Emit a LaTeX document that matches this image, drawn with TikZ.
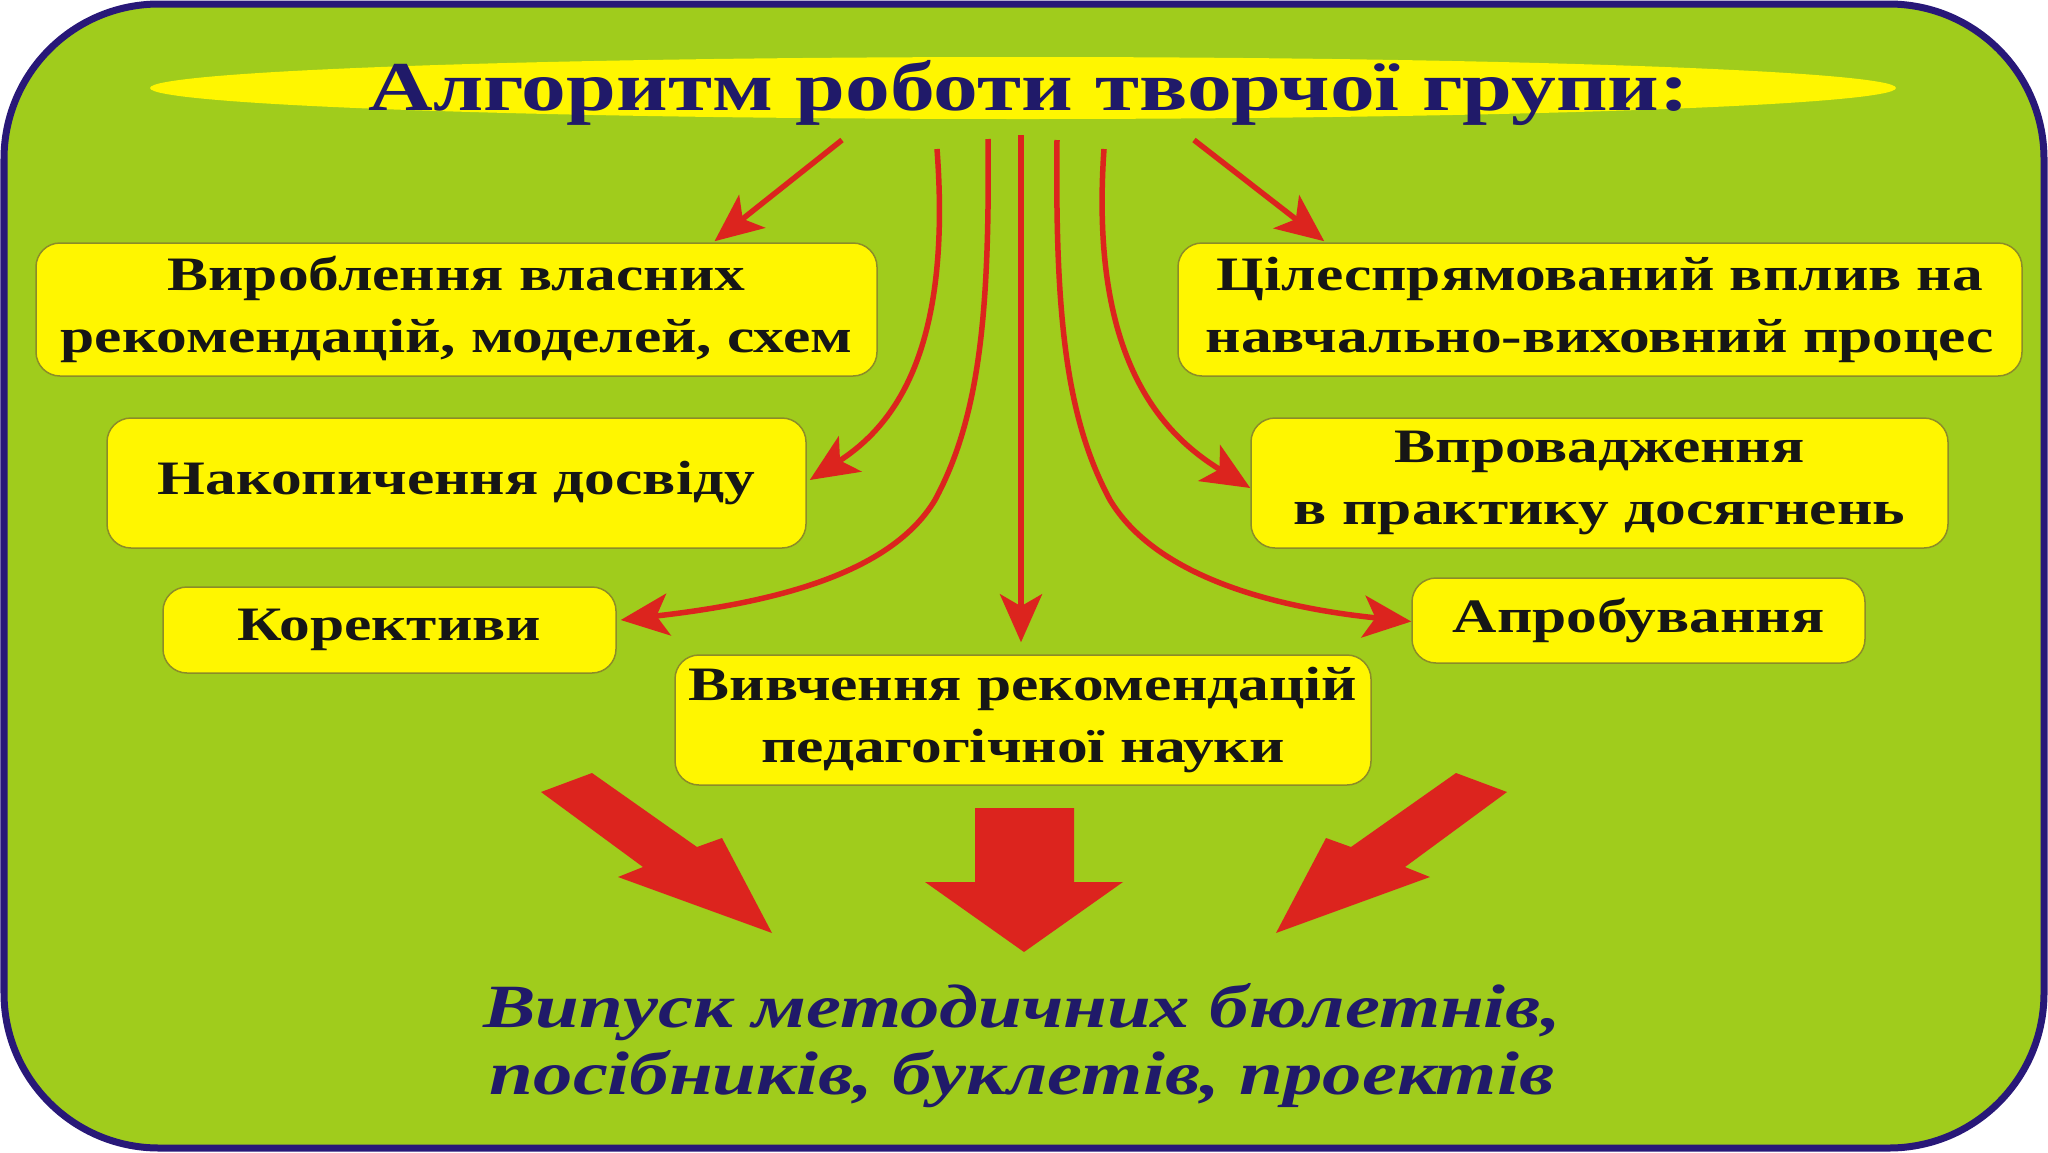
\documentclass[tikz,border=0pt]{standalone}
\usepackage{fontspec}
\setmainfont{Liberation Serif}[FakeStretch=1.28]
\usetikzlibrary{arrows.meta,shapes.geometric,calc}
\definecolor{bggreen}{RGB}{160,204,28}
\definecolor{framecol}{RGB}{40,24,120}
\definecolor{boxyellow}{RGB}{255,246,0}
\definecolor{boxline}{RGB}{140,140,40}
\definecolor{arrowred}{RGB}{220,36,30}
\definecolor{navytext}{RGB}{32,26,105}
\definecolor{darktext}{RGB}{22,22,22}
\begin{document}
\begin{tikzpicture}[x=1pt,y=-1pt,
  ybox/.style={draw=boxline, line width=1.5pt, fill=boxyellow, rounded corners=24pt,
    inner sep=0pt, align=center, text=darktext, font=\bfseries\fontsize{48}{62}\selectfont},
  thinarrow/.style={draw=arrowred, line width=5.5pt,
    -{Stealth[length=48pt,width=42pt,inset=12pt]}},
  blockarrow/.style={fill=arrowred, draw=none}]
\useasboundingbox (0,0) rectangle (2048,1152);
\fill[white] (0,0) rectangle (2048,1152);
\draw[draw=framecol, line width=7pt, fill=bggreen, rounded corners=155pt] (4,4) rectangle (2044,1148);

% title
\node[ellipse, fill=boxyellow, minimum width=1746pt, minimum height=62pt, inner sep=0pt] (titlebg) at (1023,88) {};
\node[anchor=base, text=navytext, font=\bfseries\fontsize{70}{80}\selectfont, inner sep=0pt] (title) at (1029,110) {Алгоритм роботи творчої групи:};

% boxes
\node[ybox, minimum width=841pt, minimum height=133pt] (b1) at (456.5,309.5) {Вироблення власних\\рекомендацій, моделей, схем};
\node[ybox, minimum width=844pt, minimum height=133pt] (b2) at (1600,309.5) {Цілеспрямований вплив на\\навчально-виховний процес};
\node[ybox, minimum width=699pt, minimum height=130pt] (b3) at (456.5,483) {Накопичення досвіду};
\node[ybox, minimum width=697pt, minimum height=130pt] (b4) at (1599.5,483) {Впровадження\\в практику досягнень};
\node[ybox, minimum width=453pt, minimum height=86pt] (b5) at (389.5,630) {Корективи};
\node[ybox, minimum width=453pt, minimum height=85pt] (b6) at (1638.5,620.5) {Апробування};
\node[ybox, minimum width=696pt, minimum height=130pt] (b7) at (1023,720) {Вивчення рекомендацій\\педагогічної науки};

% start points of thin arrows
\coordinate (s1) at (842,140);
\coordinate (s2) at (937,149);
\coordinate (s3) at (988,139);
\coordinate (s4) at (1021,135);
\coordinate (s5) at (1057,140);
\coordinate (s6) at (1104,149);
\coordinate (s7) at (1194,140);

\draw[thinarrow] (s1) -- ($(b1.north)+(258,-1)$);
\draw[thinarrow] (s7) -- ($(b2.north west)+(147,-1)$);
\draw[thinarrow] (s2) .. controls (952,350) and (895,425) .. ($(b3.east)+(3,-3)$);
\draw[thinarrow] (s3) .. controls (990,320) and (978,420) .. (935,500) .. controls (890,575) and (770,603) .. ($(b5.east)+(4,-10)$);
\draw[thinarrow] (s4) -- ($(b7.north)+(-2,-12)$);
\draw[thinarrow] (s5) .. controls (1055,320) and (1067,420) .. (1110,500) .. controls (1155,575) and (1270,607) .. ($(b6.west)+(0,1)$);
\draw[thinarrow] (s6) .. controls (1090,350) and (1155,430) .. ($(b4.west)+(0,5)$);

% block arrows
\fill[blockarrow] (541,792) -- (592,773) -- (697,847) -- (722,838) -- (772,933) -- (618,877) -- (643,867) -- cycle;
\fill[blockarrow] (975,808) -- (1074,808) -- (1074,882) -- (1123,882) -- (1024,952) -- (925,882) -- (975,882) -- cycle;
\fill[blockarrow] (1507,792) -- (1456,773) -- (1351,847) -- (1326,838) -- (1276,933) -- (1430,877) -- (1405,867) -- cycle;

% result text
\node[align=center, text=navytext, font=\bfseries\itshape\fontsize{61.5}{67}\selectfont, inner sep=0pt] (result) at (1022,1046) {Випуск методичних бюлетнів,\\посібників, буклетів, проектів};
\end{tikzpicture}
\end{document}
